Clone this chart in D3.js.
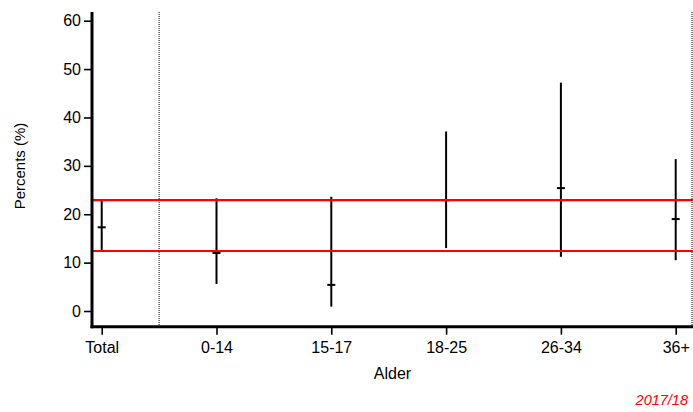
<!DOCTYPE html>
<html>
<head>
<meta charset="utf-8">
<script src="https://cdn.jsdelivr.net/npm/d3@7"></script>
<style>
  html, body { margin: 0; padding: 0; background: #fff; }
  svg { display: block; font-family: "Liberation Sans", Arial, Helvetica, sans-serif; }
</style>
</head>
<body>
<svg id="chart" width="693" height="412"></svg>
<script>
// ---- data ----
const categories = ["Total", "0-14", "15-17", "18-25", "26-34", "36+"];
const estimate  = [17.3, 12.0, 5.4, 22.9, 25.4, 19.0];
const lower     = [12.6, 5.6, 0.9, 13.0, 11.2, 10.5];
const upper     = [22.9, 23.3, 23.6, 37.1, 47.2, 31.4];
const refLines  = [22.9, 12.4];
const yTicks    = [0, 10, 20, 30, 40, 50, 60];
const yLabel = "Percents (%)";
const xLabel = "Alder";
const note = "2017/18";

// ---- layout ----
const W = 693, H = 412;
const axisX = 92, axisY = 326.7, plotTop = 12, plotRight = 693;

const svg = d3.select("#chart");

const x = d3.scalePoint().domain(categories).range([101.7, 675.7]);
const y = d3.scaleLinear().domain([0, 60]).range([311, 20.7]);

// dotted separators
const sepX = [(x(categories[0]) + x(categories[1])) / 2, 692];
svg.selectAll("line.sep").data(sepX).enter().append("line")
  .attr("class", "sep")
  .attr("x1", d => d).attr("x2", d => d)
  .attr("y1", plotTop).attr("y2", axisY)
  .attr("stroke", "#000").attr("stroke-width", 1)
  .attr("stroke-dasharray", "1,1");

// error bars
const data = categories.map((c, i) => ({ c, est: estimate[i], lo: lower[i], hi: upper[i] }));
const g = svg.append("g");
g.selectAll("line.bar").data(data).enter().append("line")
  .attr("x1", d => x(d.c)).attr("x2", d => x(d.c))
  .attr("y1", d => y(d.hi)).attr("y2", d => y(d.lo))
  .attr("stroke", "#000").attr("stroke-width", 2);
g.selectAll("line.mark").data(data).enter().append("line")
  .attr("x1", d => x(d.c) - 4).attr("x2", d => x(d.c) + 4)
  .attr("y1", d => y(d.est)).attr("y2", d => y(d.est))
  .attr("stroke", "#000").attr("stroke-width", 2);

// red reference lines
svg.selectAll("line.ref").data(refLines).enter().append("line")
  .attr("x1", axisX).attr("x2", plotRight)
  .attr("y1", d => y(d)).attr("y2", d => y(d))
  .attr("stroke", "#ff0000").attr("stroke-width", 2.2);

// y axis
const yAxis = d3.axisLeft(y).tickValues(yTicks).tickSize(8).tickSizeOuter(0).tickPadding(3);
const gy = svg.append("g").attr("transform", `translate(${axisX},0)`).call(yAxis);
gy.select(".domain").remove();
gy.selectAll(".tick line").attr("stroke", "#000").attr("stroke-width", 1.6);
gy.selectAll(".tick text").attr("font-size", 16).attr("fill", "#000")
  .attr("font-family", "Liberation Sans, Arial, sans-serif");

// x axis
const xAxis = d3.axisBottom(x).tickSize(8).tickSizeOuter(0).tickPadding(7);
const gx = svg.append("g").attr("transform", `translate(0,${axisY})`).call(xAxis);
gx.select(".domain").remove();
gx.selectAll(".tick line").attr("stroke", "#000").attr("stroke-width", 1.6);
gx.selectAll(".tick text").attr("font-size", 16).attr("fill", "#000")
  .attr("font-family", "Liberation Sans, Arial, sans-serif");

// thick axis lines
svg.append("line").attr("x1", axisX).attr("x2", axisX)
  .attr("y1", plotTop).attr("y2", axisY + 1.5)
  .attr("stroke", "#000").attr("stroke-width", 3);
svg.append("line").attr("x1", axisX - 1.5).attr("x2", plotRight)
  .attr("y1", axisY).attr("y2", axisY)
  .attr("stroke", "#000").attr("stroke-width", 3);

// axis titles
svg.append("text")
  .attr("transform", `translate(25,166) rotate(-90)`)
  .attr("text-anchor", "middle")
  .attr("font-size", 15).attr("fill", "#000")
  .text(yLabel);
svg.append("text")
  .attr("x", (axisX + plotRight) / 2).attr("y", 379)
  .attr("text-anchor", "middle")
  .attr("font-size", 16).attr("fill", "#000")
  .text(xLabel);

// note
svg.append("text")
  .attr("x", 688).attr("y", 405)
  .attr("text-anchor", "end")
  .attr("font-size", 14.5).attr("font-style", "italic").attr("fill", "#ff0000")
  .text(note);
</script>
</body>
</html>
